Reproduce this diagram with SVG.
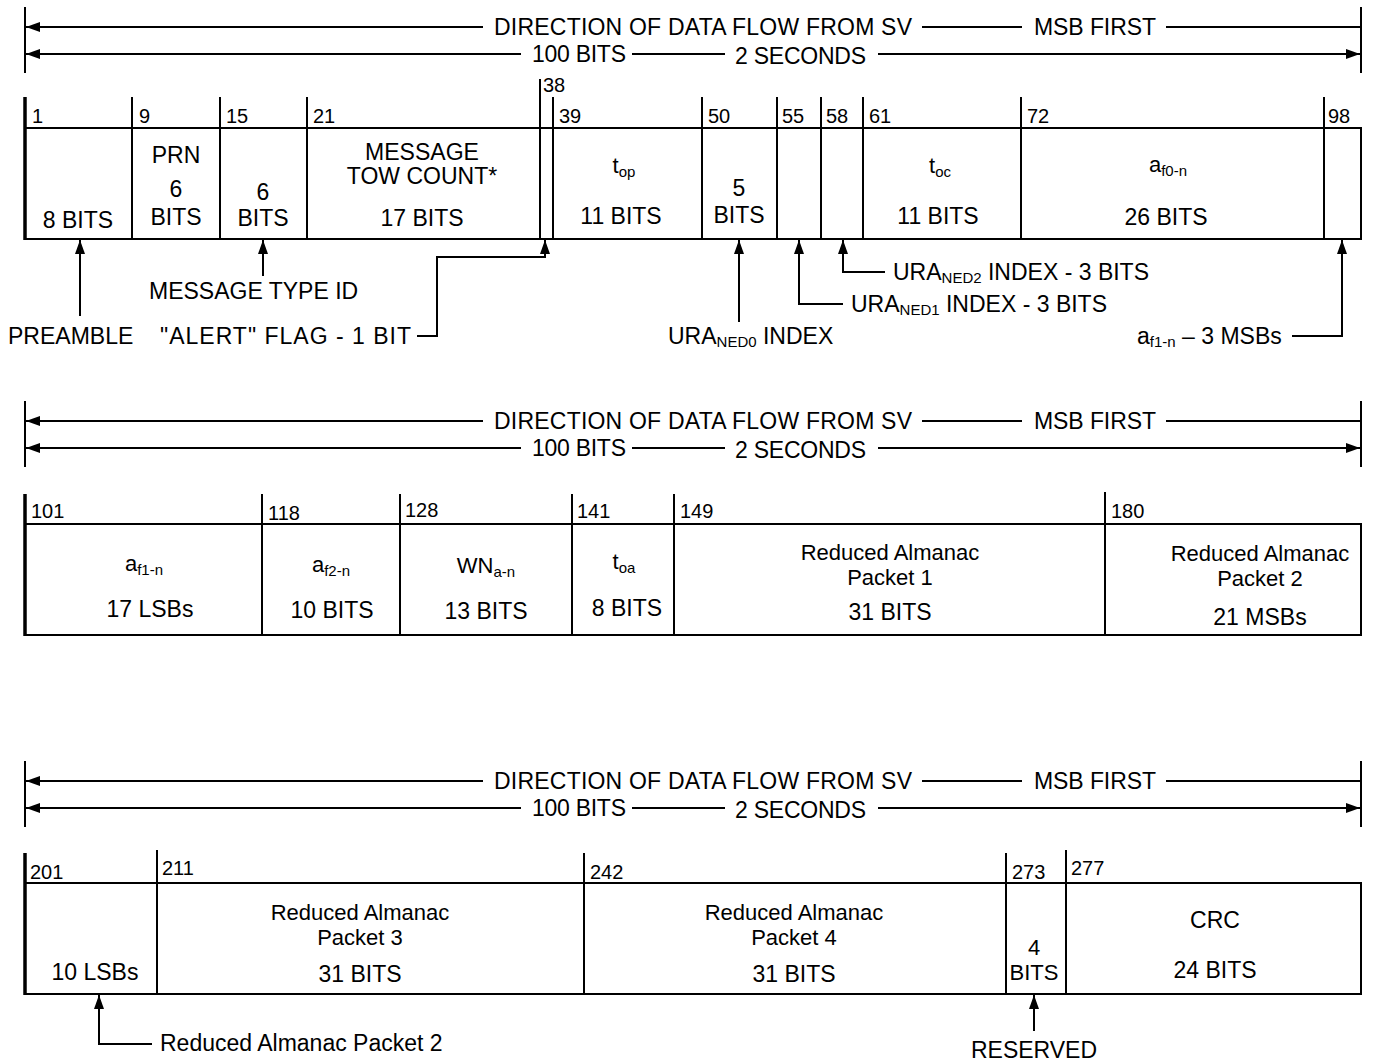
<svg xmlns="http://www.w3.org/2000/svg" width="1373" height="1064" viewBox="0 0 1373 1064">
<defs>
<marker id="ah" viewBox="0 0 14 10" refX="14" refY="5" markerWidth="14" markerHeight="10" markerUnits="userSpaceOnUse" orient="auto">
<path d="M0,0 L14,5 L0,10 z" fill="#000"/>
</marker>
<style>
text{font-family:"Liberation Sans",Arial,Helvetica,sans-serif;font-size:23px;fill:#000}
.c{text-anchor:middle}
.n{font-size:20px}
.r{font-size:22px}
.s{font-size:15px}
.ln{stroke:#000;stroke-width:2;fill:none}
.ar{stroke:#000;stroke-width:2;fill:none;marker-end:url(#ah)}
.box{stroke:#000;stroke-width:2;fill:#fff}
.edge{stroke:#000;stroke-width:3.5}
</style>
<g id="header">
<line class="ln" x1="25" y1="7" x2="25" y2="73"/>
<line class="ln" x1="1361" y1="7" x2="1361" y2="73"/>
<line class="ar" x1="483" y1="27" x2="26" y2="27"/>
<text x="494" y="35" textLength="418">DIRECTION OF DATA FLOW FROM SV</text>
<line class="ln" x1="922" y1="27" x2="1022" y2="27"/>
<text x="1034" y="35" textLength="122">MSB FIRST</text>
<line class="ln" x1="1166" y1="27" x2="1361" y2="27"/>
<line class="ar" x1="521" y1="54" x2="26" y2="54"/>
<text x="532" y="62" textLength="94">100 BITS</text>
<line class="ln" x1="632" y1="54" x2="725" y2="54"/>
<text x="735" y="64" textLength="131">2 SECONDS</text>
<line class="ar" x1="878" y1="54" x2="1360" y2="54"/>
</g>
</defs>

<use href="#header"/>
<use href="#header" y="394"/>
<use href="#header" y="754"/>

<!-- Row 1 -->
<g id="row1">
<rect class="box" x="25" y="128" width="1336" height="111"/>
<line class="edge" x1="25" y1="97" x2="25" y2="240"/>
<g class="ln">
<line x1="132" y1="97" x2="132" y2="239"/>
<line x1="220" y1="97" x2="220" y2="239"/>
<line x1="307" y1="97" x2="307" y2="239"/>
<line x1="540" y1="79" x2="540" y2="239"/>
<line x1="553" y1="97" x2="553" y2="239"/>
<line x1="702" y1="97" x2="702" y2="239"/>
<line x1="777" y1="97" x2="777" y2="239"/>
<line x1="821" y1="97" x2="821" y2="239"/>
<line x1="863" y1="97" x2="863" y2="239"/>
<line x1="1021" y1="97" x2="1021" y2="239"/>
<line x1="1324" y1="97" x2="1324" y2="239"/>
</g>
</g>

<g id="f1"><text class="n" x="32" y="123">1</text><text class="c" x="78" y="228">8 BITS</text></g>
<g id="f9"><text class="n" x="139" y="123">9</text><text class="c" x="176" y="163">PRN</text><text class="c" x="176" y="197">6</text><text class="c" x="176" y="225">BITS</text></g>
<g id="f15"><text class="n" x="226" y="123">15</text><text class="c" x="263" y="200">6</text><text class="c" x="263" y="226">BITS</text></g>
<g id="f21"><text class="n" x="313" y="123">21</text><text class="c" x="422" y="160">MESSAGE</text><text class="c" x="422" y="184">TOW COUNT*</text><text class="c" x="422" y="226">17 BITS</text></g>
<g id="f38"><text class="n" x="543" y="92">38</text></g>
<g id="f39"><text class="n" x="559" y="123">39</text><text class="c r" x="624" y="173">t<tspan class="s" dy="4">op</tspan></text><text class="c" x="621" y="224">11 BITS</text></g>
<g id="f50"><text class="n" x="708" y="123">50</text><text class="c" x="739" y="196">5</text><text class="c" x="739" y="223">BITS</text></g>
<g id="f55"><text class="n" x="782" y="123">55</text></g>
<g id="f58"><text class="n" x="826" y="123">58</text></g>
<g id="f61"><text class="n" x="869" y="123">61</text><text class="c r" x="940" y="173">t<tspan class="s" dy="4">oc</tspan></text><text class="c" x="938" y="224">11 BITS</text></g>
<g id="f72"><text class="n" x="1027" y="123">72</text><text class="c r" x="1168" y="172">a<tspan class="s" dy="4">f0-n</tspan></text><text class="c" x="1166" y="225">26 BITS</text></g>
<g id="f98"><text class="n" x="1328" y="123">98</text></g>

<g id="labels1">
<text x="8" y="344">PREAMBLE</text>
<text x="149" y="299">MESSAGE TYPE ID</text>
<text x="160" y="344" textLength="251">"ALERT" FLAG - 1 BIT</text>
<text x="668" y="344">URA<tspan class="s" dy="3">NED0</tspan><tspan dy="-3"> INDEX</tspan></text>
<text x="851" y="312">URA<tspan class="s" dy="3">NED1</tspan><tspan dy="-3"> INDEX - 3 BITS</tspan></text>
<text x="893" y="280">URA<tspan class="s" dy="3">NED2</tspan><tspan dy="-3"> INDEX - 3 BITS</tspan></text>
<text x="1137" y="344">a<tspan class="s" dy="3">f1-n</tspan><tspan dy="-3"> – 3 MSBs</tspan></text>
</g>

<!-- Row 2 -->
<g id="row2">
<rect class="box" x="25" y="524" width="1336" height="111"/>
<line class="edge" x1="25" y1="494" x2="25" y2="636"/>
<g class="ln">
<line x1="262" y1="494" x2="262" y2="635"/>
<line x1="400" y1="494" x2="400" y2="635"/>
<line x1="572" y1="494" x2="572" y2="635"/>
<line x1="674" y1="494" x2="674" y2="635"/>
<line x1="1105" y1="492" x2="1105" y2="635"/>
</g>
</g>
<g id="f101"><text class="n" x="31" y="518">101</text><text class="c r" x="144" y="571">a<tspan class="s" dy="4">f1-n</tspan></text><text class="c" x="150" y="617">17 LSBs</text></g>
<g id="f118"><text class="n" x="268" y="520">118</text><text class="c r" x="331" y="572">a<tspan class="s" dy="4">f2-n</tspan></text><text class="c" x="332" y="618">10 BITS</text></g>
<g id="f128"><text class="n" x="405" y="517">128</text><text class="c r" x="486" y="573">WN<tspan class="s" dy="4">a-n</tspan></text><text class="c" x="486" y="619">13 BITS</text></g>
<g id="f141"><text class="n" x="577" y="518">141</text><text class="c r" x="624" y="569">t<tspan class="s" dy="4">oa</tspan></text><text class="c" x="627" y="616">8 BITS</text></g>
<g id="f149"><text class="n" x="680" y="518">149</text><text class="c r" x="890" y="560">Reduced Almanac</text><text class="c r" x="890" y="585">Packet 1</text><text class="c" x="890" y="620">31 BITS</text></g>
<g id="f180"><text class="n" x="1111" y="518">180</text><text class="c r" x="1260" y="561">Reduced Almanac</text><text class="c r" x="1260" y="586">Packet 2</text><text class="c" x="1260" y="625">21 MSBs</text></g>

<!-- Row 3 -->
<g id="row3">
<rect class="box" x="25" y="883" width="1336" height="111"/>
<line class="edge" x1="25" y1="853" x2="25" y2="995"/>
<g class="ln">
<line x1="157" y1="850" x2="157" y2="994"/>
<line x1="584" y1="853" x2="584" y2="994"/>
<line x1="1006" y1="853" x2="1006" y2="994"/>
<line x1="1066" y1="850" x2="1066" y2="994"/>
</g>
</g>
<g id="f201"><text class="n" x="30" y="879">201</text><text class="c" x="95" y="980">10 LSBs</text></g>
<g id="f211"><text class="n" x="162" y="875">211</text><text class="c r" x="360" y="920">Reduced Almanac</text><text class="c r" x="360" y="945">Packet 3</text><text class="c" x="360" y="982">31 BITS</text></g>
<g id="f242"><text class="n" x="590" y="879">242</text><text class="c r" x="794" y="920">Reduced Almanac</text><text class="c r" x="794" y="945">Packet 4</text><text class="c" x="794" y="982">31 BITS</text></g>
<g id="f273"><text class="n" x="1012" y="879">273</text><text class="c r" x="1034" y="955">4</text><text class="c r" x="1034" y="980">BITS</text></g>
<g id="f277"><text class="n" x="1071" y="875">277</text><text class="c" x="1215" y="928">CRC</text><text class="c" x="1215" y="978">24 BITS</text></g>

<g id="labels3">
<text x="160" y="1051">Reduced Almanac Packet 2</text>
<text class="c" x="1034" y="1058">RESERVED</text>
</g>

<g id="connectors">
<line class="ar" x1="80" y1="316" x2="80" y2="240"/>
<line class="ar" x1="263" y1="276" x2="263" y2="240"/>
<polyline class="ar" points="417,336 437,336 437,257 545,257 545,240"/>
<line class="ar" x1="739" y1="322" x2="739" y2="240"/>
<polyline class="ar" points="843,304 799,304 799,240"/>
<polyline class="ar" points="885,272 843,272 843,240"/>
<polyline class="ar" points="1292,336 1342,336 1342,240"/>
<polyline class="ar" points="152,1044 99,1044 99,995"/>
<line class="ar" x1="1034" y1="1031" x2="1034" y2="995"/>
</g>
</svg>
